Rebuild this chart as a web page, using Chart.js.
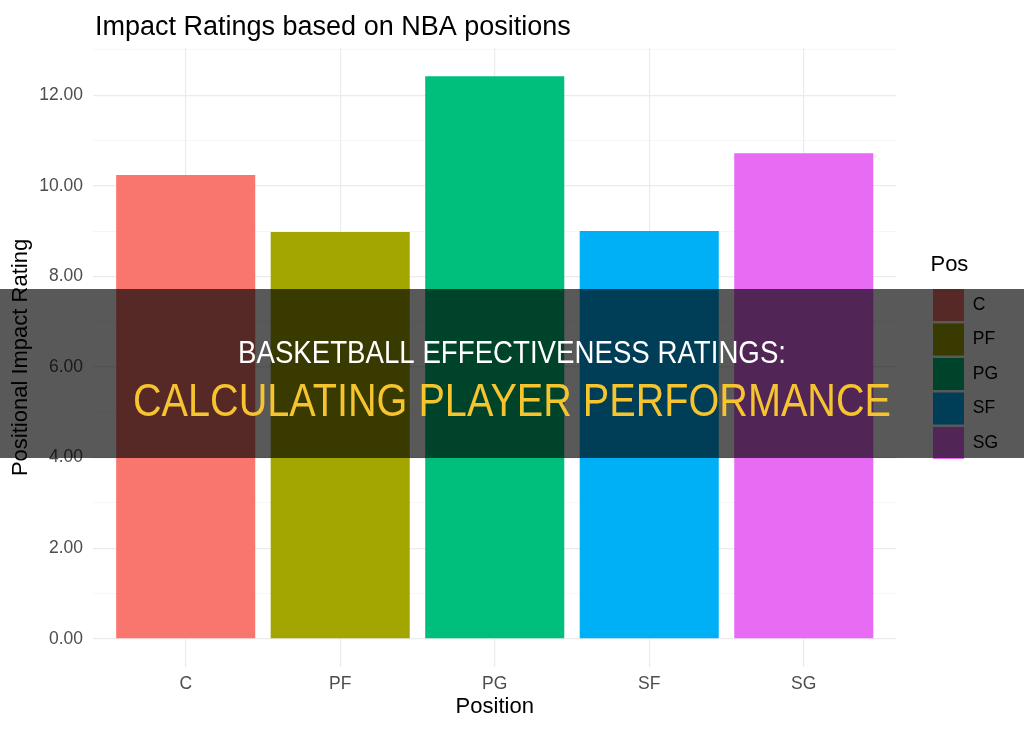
<!DOCTYPE html>
<html>
<head>
<meta charset="utf-8">
<script src="https://cdn.jsdelivr.net/npm/chart.js@4.4.1/dist/chart.umd.min.js"></script>
<style>
    html, body { margin: 0; padding: 0; background: #ffffff; }
    #wrap { width: 1024px; height: 731px; position: relative; }
</style>
</head>
<body>
<div id="wrap"><canvas id="chartImpact" width="1024" height="731"></canvas></div>
<script>
const positions = ['C', 'PF', 'PG', 'SF', 'SG'];
const impactRatings = [10.24, 8.98, 12.42, 9.00, 10.72];
const barColors = ['#F8766D', '#A3A500', '#00BF7D', '#00B0F6', '#E76BF3'];
const yTickValues = [0, 1, 2, 3, 4, 5, 6, 7, 8, 9, 10, 11, 12, 13];
const xTickValues = [0, 1, 2, 3, 4];

const chartTitle = 'Impact Ratings based on NBA positions';
const bannerLine1 = 'BASKETBALL EFFECTIVENESS RATINGS:';
const bannerLine2 = 'CALCULATING PLAYER PERFORMANCE';

const fontFamily = '"Liberation Sans", Arial, sans-serif';

// title at the panel's left edge, like ggplot does it
const titlePlugin = {
    id: 'ggTitle',
    afterDraw(chart) {
        const ctx = chart.ctx;
        ctx.save();
        ctx.font = '27px ' + fontFamily;
        ctx.fillStyle = '#000000';
        ctx.textAlign = 'left';
        ctx.textBaseline = 'alphabetic';
        ctx.fillText(chartTitle, chart.chartArea.left + 2, 35);
        ctx.restore();
    }
};

// dark band with the headline on top of everything
const bannerPlugin = {
    id: 'banner',
    afterDraw(chart) {
        const ctx = chart.ctx;
        ctx.save();
        ctx.fillStyle = 'rgba(0,0,0,0.65)';
        ctx.fillRect(0, 289, chart.width, 169);
        ctx.textAlign = 'center';
        ctx.textBaseline = 'alphabetic';
        ctx.fillStyle = '#ffffff';
        ctx.font = '31px ' + fontFamily;
        ctx.fillText(bannerLine1, chart.width / 2, 363, 548);
        ctx.fillStyle = '#F6C42E';
        ctx.font = '46px ' + fontFamily;
        ctx.fillText(bannerLine2, chart.width / 2, 416, 758);
        ctx.restore();
    }
};

function initImpactChart() {
    const canvas = document.getElementById('chartImpact');

    new Chart(canvas, {
        type: 'bar',
        data: {
            datasets: [
                {
                    label: 'Pos',
                    data: positions.map((p, i) => ({ x: i, y: impactRatings[i] })),
                    backgroundColor: barColors,
                    borderWidth: 0,
                    barPercentage: 0.9,
                    categoryPercentage: 1.0
                }
            ]
        },
        options: {
            responsive: false,
            maintainAspectRatio: false,
            animation: false,
            devicePixelRatio: 1,
            layout: { padding: { top: 48, right: 16, bottom: 0, left: 0 } },
            plugins: {
                tooltip: { enabled: false },
                title: { display: false },
                legend: {
                    display: true,
                    position: 'right',
                    align: 'start',
                    title: {
                        display: true,
                        text: 'Pos',
                        position: 'start',
                        color: '#000000',
                        font: { family: fontFamily, size: 22 },
                        padding: { top: 206, bottom: 6 }
                    },
                    labels: {
                        boxWidth: 31,
                        boxHeight: 32,
                        padding: 2.5,
                        color: '#1a1a1a',
                        font: { family: fontFamily, size: 17.5 },
                        generateLabels: function () {
                            return positions.map((p, i) => ({
                                text: p,
                                fillStyle: barColors[i],
                                strokeStyle: barColors[i],
                                lineWidth: 0,
                                hidden: false,
                                index: i,
                                datasetIndex: 0
                            }));
                        }
                    }
                }
            },
            scales: {
                x: {
                    type: 'linear',
                    min: -0.6,
                    max: 4.6,
                    offset: false,
                    afterBuildTicks: function (scale) {
                        scale.ticks = xTickValues.map(v => ({ value: v }));
                    },
                    afterFit: function (scale) {
                        scale.height = 64;
                    },
                    border: { display: false },
                    grid: {
                        offset: false,
                        drawTicks: false,
                        color: '#EBEBEB',
                        lineWidth: 1.2
                    },
                    ticks: {
                        autoSkip: false,
                        maxRotation: 0,
                        padding: 7,
                        color: '#4D4D4D',
                        font: { family: fontFamily, size: 17.5 },
                        callback: function (value) {
                            return positions[value] !== undefined ? positions[value] : '';
                        }
                    },
                    title: {
                        display: true,
                        text: 'Position',
                        color: '#000000',
                        font: { family: fontFamily, size: 22 },
                        padding: { top: 0, bottom: 11 }
                    }
                },
                y: {
                    type: 'linear',
                    min: -0.621,
                    max: 13.041,
                    afterBuildTicks: function (scale) {
                        scale.ticks = yTickValues.map(v => ({ value: v }));
                    },
                    afterFit: function (scale) {
                        scale.width = 93;
                    },
                    border: { display: false },
                    grid: {
                        drawTicks: false,
                        color: function (ctx) {
                            return ctx.tick && ctx.tick.value % 2 === 0 ? '#EBEBEB' : '#F2F2F2';
                        },
                        lineWidth: function (ctx) {
                            return ctx.tick && ctx.tick.value % 2 === 0 ? 1.2 : 0.7;
                        }
                    },
                    ticks: {
                        padding: 10,
                        color: '#4D4D4D',
                        font: { family: fontFamily, size: 17.5 },
                        callback: function (value) {
                            return value % 2 === 0 ? value.toFixed(2) : '';
                        }
                    },
                    title: {
                        display: true,
                        text: 'Positional Impact Rating',
                        color: '#000000',
                        font: { family: fontFamily, size: 22 },
                        padding: { top: 8, bottom: 0 }
                    }
                },
                // empty axis that only keeps the gap between panel and legend
                gap: {
                    type: 'linear',
                    position: 'right',
                    display: true,
                    afterFit: function (scale) {
                        scale.width = 34;
                    },
                    border: { display: false },
                    grid: { display: false },
                    ticks: { display: false }
                }
            }
        },
        plugins: [titlePlugin, bannerPlugin]
    });
}

window.addEventListener('load', initImpactChart);
</script>
</body>
</html>
